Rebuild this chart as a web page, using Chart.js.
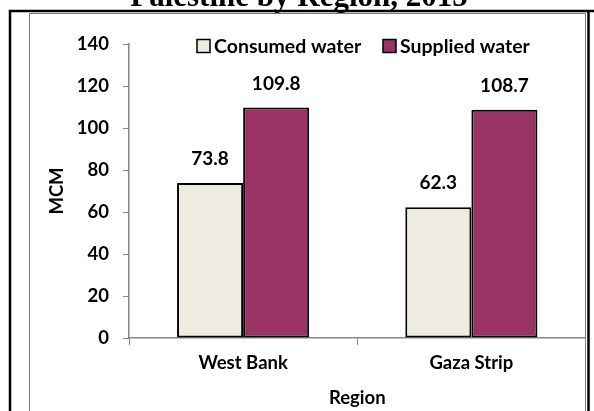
<!DOCTYPE html>
<html>
<head>
<meta charset="utf-8">
<script src="https://cdn.jsdelivr.net/npm/chart.js@4.4.0/dist/chart.umd.min.js"></script>
<style>
html,body{margin:0;padding:0;background:#fff;}
#wrap{width:594px;height:411px;position:relative;}
</style>
</head>
<body>
<div id="wrap"><canvas id="c" width="594" height="411"></canvas></div>
<script>
const titleText = "Palestine by Region, 2015";
const categories = ["West Bank", "Gaza Strip"];
const seriesNames = ["Consumed water", "Supplied water"];
const consumedValues = [73.8, 62.3];
const suppliedValues = [109.8, 108.7];
const yTicks = [0, 20, 40, 60, 80, 100, 120, 140];
const yAxisTitle = "MCM";
const xAxisTitle = "Region";

const FONT = "Lato, 'Open Sans', sans-serif";
const colors = ["#EEECE1", "#993366"];

const framePlugin = {
  id: 'frame',
  beforeDraw(chart) {
    const ctx = chart.ctx;
    ctx.save();
    ctx.fillStyle = '#fff';
    ctx.fillRect(0, 0, chart.width, chart.height);
    // title (partially cut off at top)
    ctx.fillStyle = '#000';
    ctx.font = "bold 31px 'Liberation Serif', 'Times New Roman', serif";
    ctx.textAlign = 'center';
    ctx.textBaseline = 'alphabetic';
    ctx.fillText(titleText, 299, 6);
    // outer black frame
    ctx.strokeStyle = '#000';
    ctx.lineWidth = 2.5;
    ctx.beginPath();
    ctx.moveTo(10, 420);
    ctx.lineTo(10, 11);
    ctx.lineTo(600, 11);
    ctx.moveTo(588.5, 11);
    ctx.lineTo(588.5, 420);
    ctx.stroke();
    // inner gray frame
    ctx.strokeStyle = '#7a7a7a';
    ctx.lineWidth = 1;
    ctx.beginPath();
    ctx.moveTo(29.5, 420);
    ctx.lineTo(29.5, 13.5);
    ctx.lineTo(585.5, 13.5);
    ctx.lineTo(585.5, 420);
    ctx.stroke();
    ctx.restore();
  },
  afterDatasetsDraw(chart) {
    const ctx = chart.ctx;
    ctx.save();
    ctx.fillStyle = '#000';
    ctx.font = "bold 19px " + FONT;
    ctx.textAlign = 'center';
    ctx.textBaseline = 'middle';
    chart.data.datasets.forEach((ds, di) => {
      const meta = chart.getDatasetMeta(di);
      meta.data.forEach((bar, i) => {
        ctx.fillText(ds.data[i].toFixed(1), bar.x, bar.y - 24);
      });
    });
    // legend
    const legendX = [197, 383];
    const ly = 46;
    ctx.font = "bold 19.5px " + FONT;
    ctx.textAlign = 'left';
    chart.data.datasets.forEach((ds, di) => {
      const x = legendX[di];
      ctx.fillStyle = ds.backgroundColor;
      ctx.fillRect(x, ly - 6.5, 13, 13);
      ctx.strokeStyle = '#000';
      ctx.lineWidth = 1.5;
      ctx.strokeRect(x, ly - 6.5, 13, 13);
      ctx.fillStyle = '#000';
      ctx.fillText(ds.label, x + 17, ly + 1);
    });
    ctx.restore();
  }
};

new Chart(document.getElementById('c'), {
  type: 'bar',
  data: {
    labels: categories,
    datasets: [
      { label: seriesNames[0], data: consumedValues, backgroundColor: colors[0], borderColor: '#000', borderWidth: 2, borderSkipped: false },
      { label: seriesNames[1], data: suppliedValues, backgroundColor: colors[1], borderColor: '#000', borderWidth: 2, borderSkipped: false }
    ]
  },
  options: {
    responsive: false,
    animation: false,
    devicePixelRatio: 1,
    layout: { padding: { left: 0, top: 44, right: 594 - 585.5, bottom: 0 } },
    datasets: { bar: { categoryPercentage: 0.579, barPercentage: 1 } },
    plugins: { legend: { display: false }, title: { display: false }, tooltip: { enabled: false } },
    scales: {
      x: {
        offset: true,
        grid: { offset: true, drawOnChartArea: false, drawTicks: true, tickLength: 7, color: '#868686' },
        border: { color: '#868686', width: 1.5 },
        ticks: { color: '#000', font: { family: FONT, size: 18.5, weight: 'bold' }, padding: 7 },
        title: { display: true, text: xAxisTitle, color: '#000', font: { family: FONT, size: 18.5, weight: 'bold' }, padding: { top: 0, bottom: 2 } },
        afterFit(scale) { scale.height = 411 - 338; }
      },
      y: {
        min: 0, max: 140,
        afterBuildTicks(scale) { scale.ticks = yTicks.map(v => ({ value: v })); },
        grid: { drawOnChartArea: false, drawTicks: true, tickLength: 6, color: '#868686' },
        border: { color: '#868686', width: 1.5 },
        ticks: { color: '#000', font: { family: FONT, size: 18.5, weight: 'bold' }, padding: 14 },
        title: { display: true, text: yAxisTitle, color: '#000', font: { family: FONT, size: 18.5, weight: 'bold' }, padding: { top: 46, bottom: 0 } },
        afterFit(scale) { scale.width = 129; }
      }
    }
  },
  plugins: [framePlugin]
});
</script>
</body>
</html>
